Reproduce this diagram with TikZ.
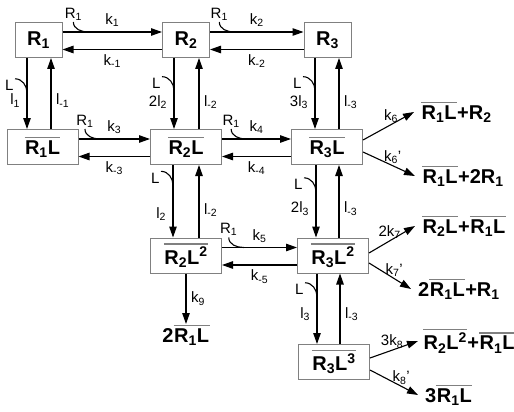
\documentclass[tikz,border=0pt]{standalone}
\usepackage{fontspec}
\setmainfont{Liberation Sans}
\usetikzlibrary{arrows.meta, positioning, calc}
\definecolor{boxgray}{RGB}{128,128,128}
\newcommand{\bigfont}{\fontsize{20}{23}\selectfont\bfseries}
\newcommand{\ratefont}{\fontsize{15}{17}\selectfont}
\newcommand{\sub}[1]{\textsubscript{#1}}
\newcommand{\ovl}[1]{\vbox{{\color{boxgray}\hrule height 1.2pt}\kern2.5pt\hbox{\kern0.5pt#1\kern0.5pt}}}
\tikzset{
  species/.style={draw=boxgray, line width=1pt, fill=white, minimum height=35pt,
    inner sep=0pt, font=\bigfont},
  narrow/.style={species, minimum width=47pt},
  wide/.style={species, minimum width=71pt},
  product/.style={anchor=west, inner xsep=7pt, inner ysep=1pt, font=\bigfont},
  rxn/.style={draw, -{Triangle[length=11pt,width=7.5pt]}, line width=1.1pt},
  rate/.style={font=\ratefont, inner sep=1.5pt},
  hook/.style={draw, line width=1.1pt},
}
\begin{document}
\begin{tikzpicture}[x=1pt, y=-1pt]
  \useasboundingbox (0,0) rectangle (514,412);

  % species
  \node[narrow] (R1) at (38.5,40) {R\sub{1}};
  \node[narrow] (R2) at (186,40) {R\sub{2}};
  \node[narrow] (R3) at (327.5,40) {R\sub{3}};
  \node[wide] (R1L) at (42.5,147) {\ovl{R\sub{1}L}};
  \node[wide] (R2L) at (186,147) {\ovl{R\sub{2}L}};
  \node[wide] (R3L) at (327,147) {\ovl{R\sub{3}L}};
  \node[wide] (R2LL) at (186,255.5) {\ovl{R\sub{2}L\textsuperscript{2}}};
  \node[wide] (R3LL) at (333,255.5) {\ovl{R\sub{3}L\textsuperscript{2}}};
  \node[wide] (R3LLL) at (334,362) {\ovl{R\sub{3}L\textsuperscript{3}}};

  % products
  \node[product] (P1) at (414,112) {\ovl{R\sub{1}L}+R\sub{2}};
  \node[product] (P2) at (415,176) {\ovl{R\sub{1}L}+2R\sub{1}};
  \node[product] (P3) at (415,226) {\ovl{R\sub{2}L}+\ovl{R\sub{1}L}};
  \node[product] (P4) at (411,289) {2\ovl{R\sub{1}L}+R\sub{1}};
  \node[product, inner xsep=5pt] (P5) at (418,341) {\ovl{R\sub{2}L\textsuperscript{2}}+\ovl{R\sub{1}L}};
  \node[product] (P6) at (418,395) {3\ovl{R\sub{1}L}};
  \node[product, anchor=north, inner sep=1pt] (P7) at (186,324) {2\ovl{R\sub{1}L}};

  % R1 binding steps
  \draw[rxn] ([yshift=8pt]R1.east) -- ([yshift=8pt]R2.west)
    coordinate[pos=0.26] (h1) node[rate, midway, above=3pt] {k\sub{1}};
  \draw[hook] (h1) to[out=180, in=270] ++(-15,-10) node[rate, above, inner sep=1pt] {R\sub{1}};
  \draw[rxn] ([yshift=-9.5pt]R2.west) -- ([yshift=-9.5pt]R1.east)
    node[rate, midway, below=3pt] {k\sub{-1}};
  \draw[rxn] ([yshift=8pt]R2.east) -- ([yshift=8pt]R3.west)
    coordinate[pos=0.26] (h2) node[rate, midway, above=3pt] {k\sub{2}};
  \draw[hook] (h2) to[out=180, in=270] ++(-15,-10) node[rate, above, inner sep=1pt] {R\sub{1}};
  \draw[rxn] ([yshift=-9.5pt]R3.west) -- ([yshift=-9.5pt]R2.east)
    node[rate, midway, below=3pt] {k\sub{-2}};

  \draw[rxn] ([yshift=8pt]R1L.east) -- ([yshift=8pt]R2L.west)
    coordinate[pos=0.3] (h3) node[rate, midway, above=3pt] {k\sub{3}};
  \draw[hook] (h3) to[out=180, in=270] ++(-15,-10) node[rate, above, inner sep=1pt] {R\sub{1}};
  \draw[rxn] ([yshift=-9.5pt]R2L.west) -- ([yshift=-9.5pt]R1L.east)
    node[rate, midway, below=3pt] {k\sub{-3}};
  \draw[rxn] ([yshift=8pt]R2L.east) -- ([yshift=8pt]R3L.west)
    coordinate[pos=0.35] (h4) node[rate, midway, above=3pt] {k\sub{4}};
  \draw[hook] (h4) to[out=180, in=270] ++(-15,-10) node[rate, above, inner sep=1pt] {R\sub{1}};
  \draw[rxn] ([yshift=-9.5pt]R3L.west) -- ([yshift=-9.5pt]R2L.east)
    node[rate, midway, below=3pt] {k\sub{-4}};

  \draw[rxn] ([yshift=8pt]R2LL.east) -- ([yshift=8pt]R3LL.west)
    coordinate[pos=0.29] (h5) node[rate, midway, above=3pt] {k\sub{5}};
  \draw[hook] (h5) to[out=180, in=270] ++(-15,-10) node[rate, above, inner sep=1pt] {R\sub{1}};
  \draw[rxn] ([yshift=-9.5pt]R3LL.west) -- ([yshift=-9.5pt]R2LL.east)
    node[rate, midway, below=3pt] {k\sub{-5}};

  % L binding steps
  \draw[rxn] ([xshift=-11.5pt]R1.south) -- ([xshift=-11.5pt]R1.south |- R1L.north)
    coordinate[pos=0.49] (v1) node[rate, pos=0.6, left=5pt] {l\sub{1}};
  \draw[hook] (v1) to[out=90, in=0] ++(-12,-14) node[rate, anchor=north east, inner sep=1pt] {L};
  \draw[rxn] ([xshift=12.5pt]R1.south |- R1L.north) -- ([xshift=12.5pt]R1.south)
    node[rate, pos=0.4, right=3pt] {l\sub{-1}};

  \draw[rxn] ([xshift=-12pt]R2.south) -- ([xshift=-12pt]R2.south |- R2L.north)
    coordinate[pos=0.46] (v2) node[rate, pos=0.62, left=5pt] {2l\sub{2}};
  \draw[hook] (v2) to[out=90, in=0] ++(-12,-14) node[rate, anchor=north east, inner sep=1pt] {L};
  \draw[rxn] ([xshift=13pt]R2.south |- R2L.north) -- ([xshift=13pt]R2.south)
    node[rate, pos=0.38, right=3pt] {l\sub{-2}};

  \draw[rxn] ([xshift=-12.5pt]R3.south) -- ([xshift=-12.5pt]R3.south |- R3L.north)
    coordinate[pos=0.46] (v3) node[rate, pos=0.62, left=5pt] {3l\sub{3}};
  \draw[hook] (v3) to[out=90, in=0] ++(-12,-14) node[rate, anchor=north east, inner sep=1pt] {L};
  \draw[rxn] ([xshift=11.5pt]R3.south |- R3L.north) -- ([xshift=11.5pt]R3.south)
    node[rate, pos=0.38, right=3pt] {l\sub{-3}};

  \draw[rxn] ([xshift=-13pt]R2L.south) -- ([xshift=-13pt]R2L.south |- R2LL.north)
    coordinate[pos=0.28] (v4) node[rate, pos=0.68, left=5pt] {l\sub{2}};
  \draw[hook] (v4) to[out=90, in=0] ++(-12,-14) node[rate, anchor=north east, inner sep=1pt] {L};
  \draw[rxn] ([xshift=13pt]R2L.south |- R2LL.north) -- ([xshift=13pt]R2L.south)
    node[rate, pos=0.38, right=3pt] {l\sub{-2}};

  \draw[rxn] ([xshift=-11pt]R3L.south) -- ([xshift=-11pt]R3L.south |- R3LL.north)
    coordinate[pos=0.37] (v5) node[rate, pos=0.6, left=5pt] {2l\sub{3}};
  \draw[hook] (v5) to[out=90, in=0] ++(-12,-14) node[rate, anchor=north east, inner sep=1pt] {L};
  \draw[rxn] ([xshift=12pt]R3L.south |- R3LL.north) -- ([xshift=12pt]R3L.south)
    node[rate, pos=0.4, right=3pt] {l\sub{-3}};

  \draw[rxn] ([xshift=-16pt]R3LL.south) -- ([xshift=-16pt]R3LL.south |- R3LLL.north)
    coordinate[pos=0.33] (v6) node[rate, pos=0.58, left=5pt] {l\sub{3}};
  \draw[hook] (v6) to[out=90, in=0] ++(-12,-14) node[rate, anchor=north east, inner sep=1pt] {L};
  \draw[rxn] ([xshift=7pt]R3LL.south |- R3LLL.north) -- ([xshift=7pt]R3LL.south)
    node[rate, pos=0.42, right=3pt] {l\sub{-3}};

  % decay steps
  \draw[rxn] ([yshift=7pt]R3L.east) -- (P1.west) node[rate, pos=0.55, above] {k\sub{6}};
  \draw[rxn] ([yshift=-5pt]R3L.east) -- (P2.west) node[rate, pos=0.57, above] {k\sub{6}’};
  \draw[rxn] ([yshift=2.5pt]R3LL.east) -- (P3.west) node[rate, pos=0.45, above] {2k\sub{7}};
  \draw[rxn] ([yshift=-7.5pt]R3LL.east) -- (P4.west) node[rate, pos=0.6, above] {k\sub{7}’};
  \draw[rxn] ([yshift=4pt]R3LLL.east) -- (P5.west) node[rate, pos=0.46, above] {3k\sub{8}};
  \draw[rxn] ([yshift=-8pt]R3LLL.east) -- (P6.west) node[rate, pos=0.65, above] {k\sub{8}’};
  \draw[rxn] (R2LL.south) -- (P7.north) node[rate, midway, right=3pt] {k\sub{9}};
\end{tikzpicture}
\end{document}
